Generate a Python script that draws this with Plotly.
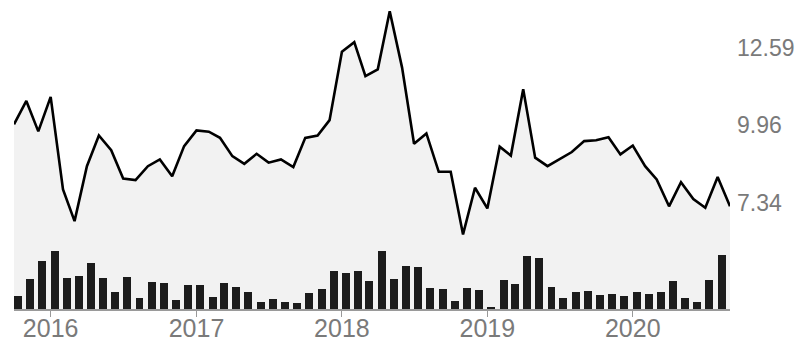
import plotly.graph_objects as go
import pandas as pd

dates = pd.date_range("2015-10-01", periods=60, freq="MS")

price = [9.99, 10.78, 9.75, 10.92, 7.78, 6.71, 8.57, 9.61, 9.11, 8.15,
         8.10, 8.57, 8.80, 8.23, 9.25, 9.78, 9.74, 9.53, 8.91, 8.65,
         8.99, 8.69, 8.80, 8.54, 9.53, 9.61, 10.13, 12.45, 12.77, 11.62,
         11.85, 13.82, 11.91, 9.33, 9.68, 8.38, 8.38, 6.26, 7.84, 7.14,
         9.23, 8.93, 11.18, 8.86, 8.57, 8.82, 9.05, 9.42, 9.45, 9.55,
         8.97, 9.27, 8.57, 8.12, 7.21, 8.03, 7.46, 7.16, 8.20, 7.21]

volume = [40, 90, 145, 173, 93, 98, 138, 93, 52, 96,
          33, 81, 78, 28, 72, 72, 35, 78, 65, 51,
          21, 30, 22, 17, 48, 60, 113, 107, 115, 85,
          173, 91, 128, 125, 63, 60, 25, 63, 56, 6,
          88, 76, 160, 153, 66, 33, 50, 55, 43, 46,
          38, 51, 45, 50, 85, 33, 20, 87, 162, None]

y_tick_vals = [7.34, 9.96, 12.59]
y_tick_text = ["7.34", "9.96", "12.59"]
year_ticks = ["2016-01-01", "2017-01-01", "2018-01-01", "2019-01-01", "2020-01-01"]
year_labels = ["2016", "2017", "2018", "2019", "2020"]

DAY_MS = 86400000

fig = go.Figure()
fig.add_trace(go.Scatter(
    x=dates, y=price, mode="lines",
    line=dict(color="#000000", width=2.6),
    fill="tozeroy", fillcolor="#f2f2f2",
    hoverinfo="skip", showlegend=False,
))
fig.add_trace(go.Bar(
    x=dates, y=volume, yaxis="y2",
    marker=dict(color="#1c1c1c", line=dict(width=0)),
    width=20 * DAY_MS, offset=0,
    hoverinfo="skip", showlegend=False,
))

fig.update_layout(
    width=800, height=341,
    margin=dict(l=14, r=70, t=0, b=32, autoexpand=False),
    paper_bgcolor="white", plot_bgcolor="white",
    font=dict(family="Liberation Sans, Arial, sans-serif", color="#7a7a7a"),
    xaxis=dict(
        type="date",
        range=["2015-10-01", "2020-09-01"],
        tickvals=year_ticks, ticktext=year_labels,
        ticks="outside", ticklen=6, tickwidth=1, tickcolor="#999999",
        showline=True, linecolor="#9a9a9a", linewidth=1.5,
        showgrid=False, zeroline=False, automargin=False,
        tickfont=dict(size=25, color="#7a7a7a"),
        ticklabelstandoff=-10,
    ),
    yaxis=dict(
        range=[3.732, 14.20],
        side="right",
        tickvals=y_tick_vals, ticktext=y_tick_text,
        ticks="", showline=False, showgrid=False, zeroline=False,
        automargin=False,
        tickfont=dict(size=23, color="#7a7a7a"),
        ticklabelstandoff=6,
    ),
    yaxis2=dict(
        range=[0, 927], overlaying="y", side="left",
        showticklabels=False, showgrid=False, zeroline=False, showline=False,
        ticks="", automargin=False,
    ),
    bargap=0,
)

fig.write_html("out.html")
